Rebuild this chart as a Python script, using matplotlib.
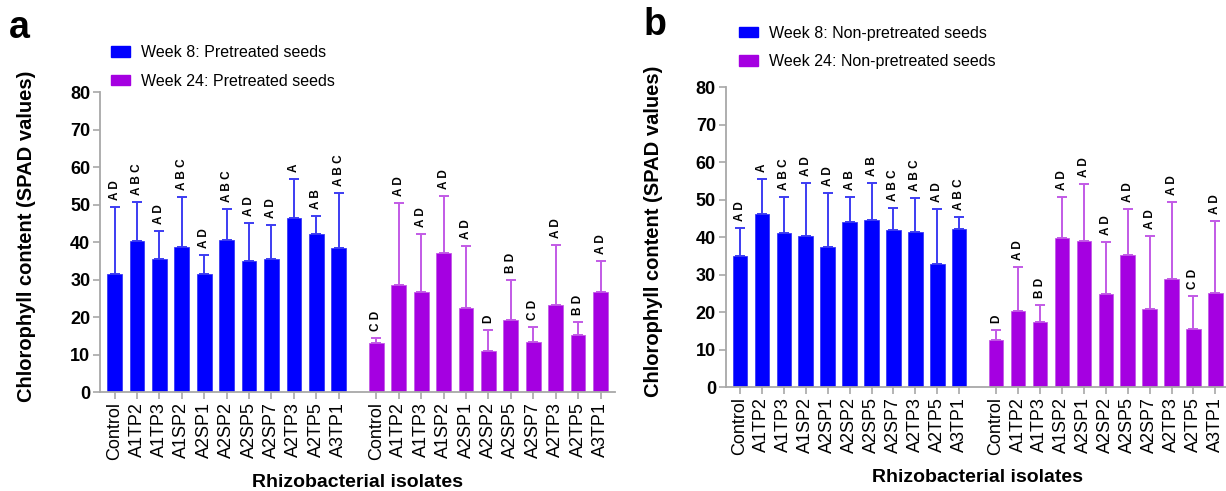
import numpy as np
import matplotlib.pyplot as plt
from matplotlib.patches import Patch

plt.rcParams['font.family'] = ['Liberation Sans', 'DejaVu Sans']

isolates = ['Control', 'A1TP2', 'A1TP3', 'A1SP2', 'A2SP1', 'A2SP2',
            'A2SP5', 'A2SP7', 'A2TP3', 'A2TP5', 'A3TP1']

# panel a - pretreated seeds
a_w8 = [31.5, 40.2, 35.5, 38.7, 31.4, 40.5, 35.0, 35.6, 46.4, 42.2, 38.3]
a_w8_sd = [17.8, 10.5, 7.5, 13.3, 5.1, 8.3, 10.2, 8.9, 10.3, 4.8, 14.9]
a_w8_let = ['AD', 'ABC', 'AD', 'ABC', 'AD', 'ABC', 'AD', 'AD', 'A', 'AB', 'ABC']
a_w24 = [13.1, 28.6, 26.7, 37.0, 22.5, 11.0, 19.1, 13.4, 23.3, 15.2, 26.7]
a_w24_sd = [1.3, 21.8, 15.4, 15.3, 16.5, 5.5, 10.8, 3.9, 15.9, 3.5, 8.2]
a_w24_let = ['CD', 'AD', 'AD', 'AD', 'AD', 'D', 'BD', 'CD', 'AD', 'BD', 'AD']

# panel b - non-pretreated seeds
b_w8 = [34.9, 46.2, 41.1, 40.2, 37.3, 44.1, 44.5, 41.9, 41.3, 32.9, 42.2]
b_w8_sd = [7.6, 9.2, 9.5, 14.3, 14.4, 6.6, 9.9, 5.8, 9.0, 14.6, 3.1]
b_w8_let = ['AD', 'A', 'ABC', 'AD', 'AD', 'AB', 'AB', 'ABC', 'ABC', 'AD', 'ABC']
b_w24 = [12.5, 20.2, 17.3, 39.7, 38.9, 24.9, 35.2, 20.9, 28.8, 15.6, 25.1]
b_w24_sd = [2.8, 11.9, 4.7, 11.0, 15.2, 13.7, 12.3, 19.4, 20.6, 8.7, 19.2]
b_w24_let = ['D', 'AD', 'BD', 'AD', 'AD', 'AD', 'AD', 'AD', 'AD', 'CD', 'AD']

blue = '#0000ff'
purple = '#a500e1'
blue_err = '#3c3cf2'
purple_err = '#c25ae6'
grey = '#a8a8a8'

x1 = np.arange(11)
x2 = np.arange(11) + 11.68

fig = plt.figure(figsize=(12.26, 4.91), dpi=100)
ax_a = fig.add_axes([0.0816, 0.2016, 0.4201, 0.611])
ax_b = fig.add_axes([0.5919, 0.2118, 0.4111, 0.611])


def draw(ax, w8, w8_sd, w8_let, w24, w24_sd, w24_let):
    for x, m, sd, let, col, ecol in [(x1, w8, w8_sd, w8_let, blue, blue_err),
                                     (x2, w24, w24_sd, w24_let, purple, purple_err)]:
        ax.bar(x, m, width=0.66, color=col, edgecolor=ecol, linewidth=0.6, zorder=2)
        ax.errorbar(x, m, yerr=[np.zeros(11), sd], fmt='none', ecolor=ecol,
                    elinewidth=1.4, capsize=3.5, capthick=1.4, zorder=1)
        for xi, mi, si, li in zip(x, m, sd, let):
            ax.annotate(' '.join(li), (xi, mi + si), xytext=(0, 5),
                        textcoords='offset points', rotation=90, ha='center',
                        va='bottom', fontsize=8.5, fontweight='bold')
    ax.set_xlim(-0.65, 22.33)
    ax.set_ylim(0, 80)
    ax.set_yticks(np.arange(0, 81, 10))
    ax.set_xticks(np.concatenate([x1, x2]))
    ax.set_xticklabels(isolates + isolates, rotation=90, fontsize=13)
    for lab in ax.get_yticklabels():
        lab.set_fontweight('bold')
    ax.tick_params(axis='y', labelsize=13, length=5, width=1.2, color=grey, pad=2)
    ax.tick_params(axis='x', length=5, width=1.2, color=grey, pad=2)
    for s in ['top', 'right']:
        ax.spines[s].set_visible(False)
    for s in ['left', 'bottom']:
        ax.spines[s].set_color(grey)
        ax.spines[s].set_linewidth(1.3)
    ax.set_ylabel('Chlorophyll content (SPAD values)', fontsize=14.5, fontweight='bold')
    ax.yaxis.set_label_coords(-0.125, 0.52)
    ax.set_xlabel('Rhizobacterial isolates', fontsize=14, fontweight='bold', labelpad=10)


draw(ax_a, a_w8, a_w8_sd, a_w8_let, a_w24, a_w24_sd, a_w24_let)
draw(ax_b, b_w8, b_w8_sd, b_w8_let, b_w24, b_w24_sd, b_w24_let)

leg_kw = dict(loc='upper left', frameon=False, fontsize=11.5, handlelength=1.2,
              handleheight=0.65, handletextpad=0.7, labelspacing=0.85,
              borderpad=0, borderaxespad=0)
fig.legend(handles=[Patch(color=blue, label='Week 8: Pretreated seeds'),
                    Patch(color=purple, label='Week 24: Pretreated seeds')],
           bbox_to_anchor=(0.0903, 0.908), **leg_kw)
fig.legend(handles=[Patch(color=blue, label='Week 8: Non-pretreated seeds'),
                    Patch(color=purple, label='Week 24: Non-pretreated seeds')],
           bbox_to_anchor=(0.6028, 0.948), **leg_kw)

fig.text(9 / 1226, 1 - 10 / 491, 'a', fontsize=27, fontweight='bold', ha='left', va='top')
fig.text(644 / 1226, 1 - 7 / 491, 'b', fontsize=27, fontweight='bold', ha='left', va='top')

fig.savefig('out.png', dpi=100)
